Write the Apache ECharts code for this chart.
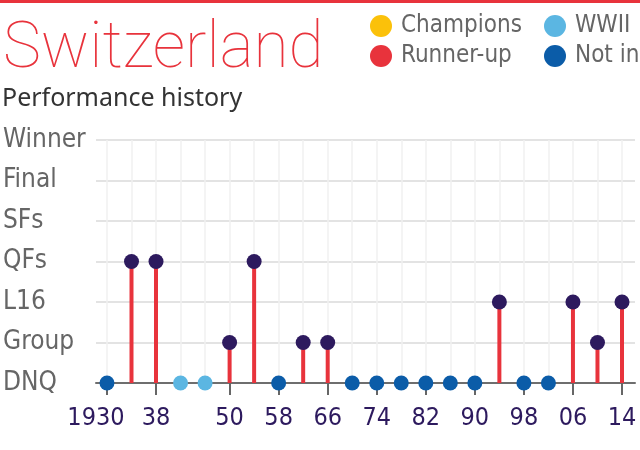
<!DOCTYPE html>
<html>
<head>
<meta charset="utf-8">
<script src="https://cdn.jsdelivr.net/npm/echarts@6/dist/echarts.min.js"></script>
<style>html,body{margin:0;padding:0;background:#fff}#c{width:640px;height:450px}</style>
</head>
<body>
<div id="c"></div>
<script>
const years = [1930,1934,1938,1942,1946,1950,1954,1958,1962,1966,1970,1974,1978,1982,1986,1990,1994,1998,2002,2006,2010,2014];
const results = ['DNQ','QFs','QFs','WWII','WWII','Group','QFs','DNQ','Group','Group','DNQ','DNQ','DNQ','DNQ','DNQ','DNQ','L16','DNQ','DNQ','L16','Group','L16'];
const stages = ['DNQ','Group','L16','QFs','SFs','Final','Winner'];
const labelYears = [1930,1938,1950,1958,1966,1974,1982,1990,1998,2006,2014];
const legendNames = ['Champions','Runner-up','WWII','Not in'];

const NARROW = "'DejaVu Sans Condensed','DejaVu Sans',sans-serif";
const RED = '#e8333c', PURPLE = '#2d1a5e', DBLUE = '#0b5ca8', LBLUE = '#5bb6e2', YELLOW = '#fbc10a';

const played = [], wwii = [], notIn = [];
years.forEach((y, i) => {
  const r = results[i];
  if (r === 'WWII') wwii.push([y, 0]);
  else if (r === 'DNQ') notIn.push([y, 0]);
  else played.push([y, stages.indexOf(r)]);
});

const legendText = {fontFamily: NARROW, fontSize: 24, color: '#666', padding: [0,0,0,4]};

const chart = echarts.init(document.getElementById('c'), null, {renderer: 'canvas'});
chart.setOption({
  animation: false,
  backgroundColor: '#fff',
  title: {
    text: 'Switzerland', left: 3, top: 19, padding: 0,
    textStyle: {fontFamily: 'Roboto', fontWeight: 100, fontSize: 64, color: RED}
  },
  graphic: [{type: 'rect', left: 0, top: 0, shape: {width: 640, height: 3}, style: {fill: RED}},
    {type: 'text', left: 2, top: 86, style: {text: 'Performance history', fontFamily: "'Noto Sans'", fontSize: 25, fill: '#333'}}],
  legend: [
    {data: ['Champions','Runner-up'], orient: 'vertical', left: 370, top: 14, padding: 0, icon: 'circle',
     itemWidth: 22, itemHeight: 22, itemGap: 6, selectedMode: false, textStyle: legendText},
    {data: ['WWII','Not in'], orient: 'vertical', left: 544, top: 14, padding: 0, icon: 'circle',
     itemWidth: 22, itemHeight: 22, itemGap: 6, selectedMode: false, textStyle: legendText}
  ],
  grid: {left: 95, right: 5, top: 140, bottom: 67, containLabel: false},
  xAxis: {
    type: 'value', min: 1928.21, max: 2016.12,
    splitLine: {show: false},
    axisLine: {show: true, onZero: true, lineStyle: {color: '#6e6e6e', width: 2}},
    axisTick: {show: true, customValues: labelYears, length: 12, lineStyle: {color: '#666', width: 2}},
    axisLabel: {
      customValues: labelYears, margin: 23, color: PURPLE, fontFamily: NARROW, fontSize: 25,
      formatter: v => v === 1930 ? '{a|1930}' : String(v).slice(2),
      rich: {a: {fontFamily: NARROW, fontSize: 25, color: PURPLE, padding: [0, 22, 0, 0]}}
    }
  },
  yAxis: {
    type: 'value', min: 0, max: 6, interval: 1,
    axisLine: {show: false}, axisTick: {show: false},
    splitLine: {show: true, lineStyle: {color: '#e3e3e3', width: 2}},
    axisLabel: {align: 'left', margin: 93, color: '#666', fontFamily: NARROW, fontSize: 26,
      padding: [0, 0, 6, 0], formatter: v => stages[v]}
  },
  series: [
    {name: 'grid', type: 'scatter', data: [], z: 0, silent: true,
     markLine: {silent: true, z: 0, symbol: ['none','none'], label: {show: false},
       lineStyle: {color: '#f1f1f1', width: 1.5, type: 'solid'},
       data: years.map(y => ({xAxis: y}))}},
    {name: 'Champions', type: 'scatter', data: [], itemStyle: {color: YELLOW, opacity: 1}},
    {name: 'Runner-up', type: 'scatter', data: [], itemStyle: {color: RED, opacity: 1}},
    {name: 'stems', type: 'bar', data: played, barWidth: 4, itemStyle: {color: RED}, z: 3, silent: true},
    {name: 'tops', type: 'scatter', data: played, symbolSize: 15, itemStyle: {color: PURPLE, opacity: 1}, z: 4},
    {name: 'WWII', type: 'scatter', data: wwii, symbolSize: 15, itemStyle: {color: LBLUE, opacity: 1}, z: 4},
    {name: 'Not in', type: 'scatter', data: notIn, symbolSize: 15, itemStyle: {color: DBLUE, opacity: 1}, z: 4}
  ]
});
</script>
</body>
</html>
